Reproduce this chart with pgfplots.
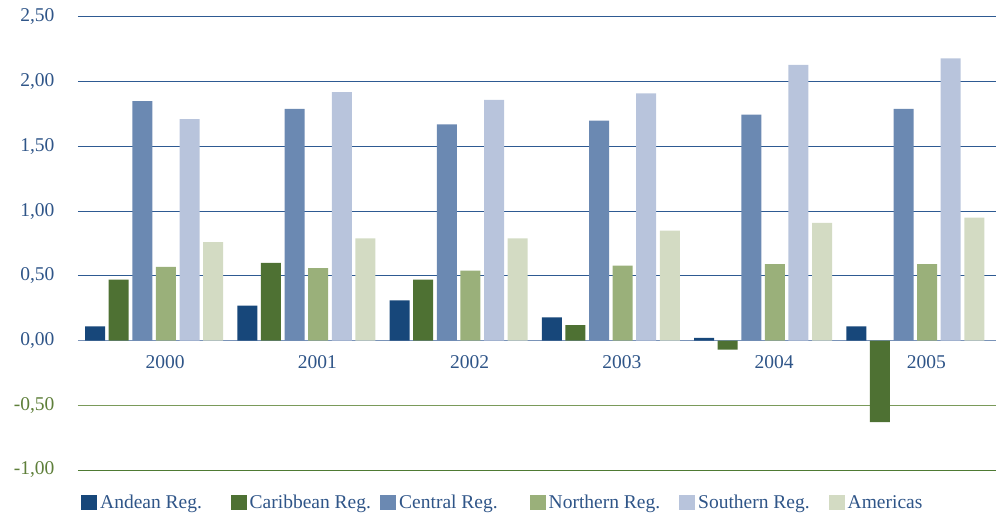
\documentclass[border=0pt]{standalone}
\usepackage{fontspec}
\setmainfont{Liberation Serif}
\usepackage{pgfplots}
\pgfplotsset{compat=1.18}
\definecolor{cAnd}{HTML}{17477A}
\definecolor{cCar}{HTML}{4E7133}
\definecolor{cCen}{HTML}{6B89B2}
\definecolor{cNor}{HTML}{9AB07A}
\definecolor{cSou}{HTML}{B8C4DC}
\definecolor{cAme}{HTML}{D3DBC3}
\definecolor{txtblue}{HTML}{2F5588}
\definecolor{txtgreen}{HTML}{5E7F3A}
\definecolor{gridblue}{HTML}{2E5A92}
\definecolor{gridzero}{HTML}{7A93B8}
\definecolor{gridgreenA}{HTML}{7A9A5A}
\definecolor{gridgreenB}{HTML}{4E7A33}
\begin{document}
\begin{tikzpicture}
\begin{axis}[
  name=ax,
  scale only axis,
  width=918pt, height=453pt,
  ybar=3.6pt, bar width=20pt,
  xmin=-0.5, xmax=5.53,
  ymin=-1, ymax=2.5,
  axis x line=middle, axis y line=left,
  axis line style={draw=none,-},
  major tick length=0pt,
  tick style={draw=none},
  xtick={0,1,2,3,4,5},
  xticklabels={2000,2001,2002,2003,2004,2005},
  xticklabel style={xshift=11pt, yshift=-11pt, text=txtblue, font=\fontsize{19.5}{22}\selectfont},
  ytick={0,0.5,1,1.5,2,2.5},
  extra y ticks={-1,-0.5},
  extra y tick style={yticklabel style={text=txtgreen}},
  yticklabel style={text=txtblue, font=\fontsize{19.5}{22}\selectfont, xshift=-20pt},
  /pgf/number format/.cd, use comma, fixed, fixed zerofill, precision=2, assume math mode=true,
  /pgfplots/.cd,
  legend style={at={(axis description cs:0,0)}, anchor=west, yshift=-32pt, xshift=3pt,
    draw=none, fill=none, font=\fontsize{19.5}{22}\selectfont, text=txtblue,
    legend columns=6, /tikz/every even column/.append style={column sep=0pt},
    inner sep=0pt, row sep=0pt},
  legend image code/.code={\fill[#1] (0pt,-7.5pt) rectangle (16pt,7.5pt);},
  legend cell align=left,
  clip=false,
]
\draw[gridblue, line width=1pt] (axis cs:-0.5,2.5) -- (axis cs:5.53,2.5);
\draw[gridblue, line width=1pt] (axis cs:-0.5,2) -- (axis cs:5.53,2);
\draw[gridblue, line width=1pt] (axis cs:-0.5,1.5) -- (axis cs:5.53,1.5);
\draw[gridblue, line width=1pt] (axis cs:-0.5,1) -- (axis cs:5.53,1);
\draw[gridblue, line width=1pt] (axis cs:-0.5,0.5) -- (axis cs:5.53,0.5);
\draw[gridzero, line width=1.2pt] (axis cs:-0.5,0) -- (axis cs:5.53,0);
\draw[gridgreenA, line width=1.2pt] (axis cs:-0.5,-0.5) -- (axis cs:5.53,-0.5);
\draw[gridgreenB, line width=1pt] (axis cs:-0.5,-1) -- (axis cs:5.53,-1);
\addplot[fill=cAnd, draw=none] coordinates {(0,0.11) (1,0.27) (2,0.31) (3,0.18) (4,0.02) (5,0.11)};
\addlegendentry{\hspace{1pt}\makebox[128.5pt][l]{Andean Reg.\strut}}
\addplot[fill=cCar, draw=none] coordinates {(0,0.47) (1,0.60) (2,0.47) (3,0.12) (4,-0.07) (5,-0.63)};
\addlegendentry{\hspace{1pt}\makebox[128.5pt][l]{Caribbean Reg.\strut}}
\addplot[fill=cCen, draw=none] coordinates {(0,1.85) (1,1.79) (2,1.67) (3,1.70) (4,1.745) (5,1.79)};
\addlegendentry{\hspace{1pt}\makebox[128.5pt][l]{Central Reg.\strut}}
\addplot[fill=cNor, draw=none] coordinates {(0,0.57) (1,0.56) (2,0.54) (3,0.58) (4,0.59) (5,0.59)};
\addlegendentry{\hspace{1pt}\makebox[128.5pt][l]{Northern Reg.\strut}}
\addplot[fill=cSou, draw=none] coordinates {(0,1.71) (1,1.92) (2,1.86) (3,1.91) (4,2.13) (5,2.18)};
\addlegendentry{\hspace{1pt}\makebox[128.5pt][l]{Southern Reg.\strut}}
\addplot[fill=cAme, draw=none] coordinates {(0,0.76) (1,0.79) (2,0.79) (3,0.85) (4,0.91) (5,0.95)};
\addlegendentry{\hspace{1pt}\makebox[128.5pt][l]{Americas\strut}}
\end{axis}
\pgfresetboundingbox
\path ([shift={(-78pt,-42pt)}]ax.south west) rectangle ([shift={(0pt,17pt)}]ax.north east);
\end{tikzpicture}
\end{document}
